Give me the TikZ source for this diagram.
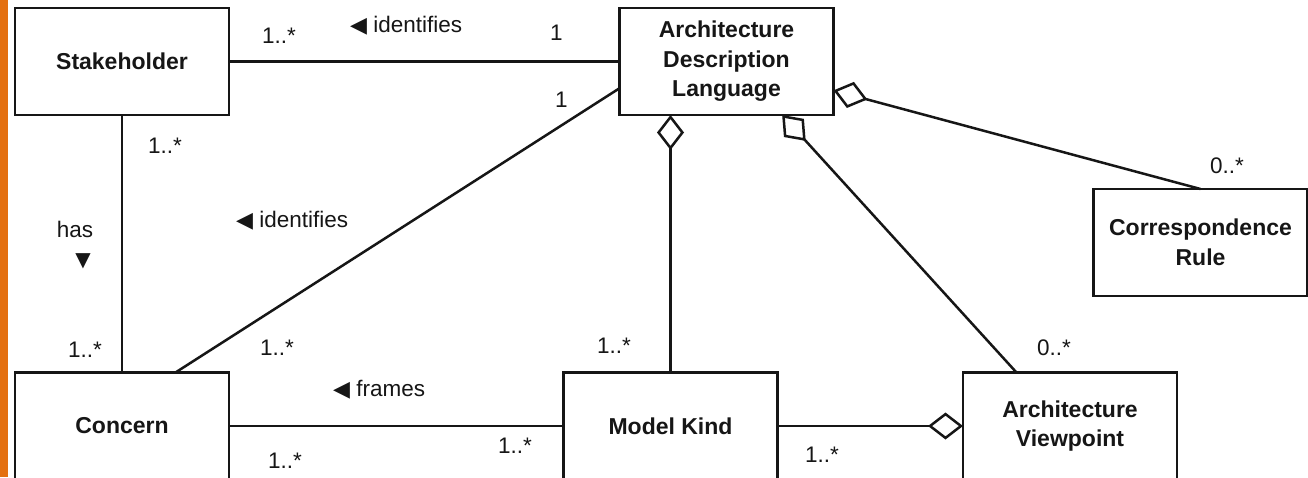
\documentclass[tikz,border=0pt]{standalone}
\usepackage{fontspec}
\setmainfont{Liberation Sans}
\newfontfamily\symbolfont{DejaVu Sans}
\usetikzlibrary{arrows.meta,calc}
\definecolor{edgeorange}{RGB}{228,112,16}
\definecolor{ink}{RGB}{22,22,22}
% direction markers for association names
\newcommand{\lefttri}{{\symbolfont\fontsize{22}{22}\selectfont ◀}}
\newcommand{\downtri}{{\symbolfont\fontsize{20}{20}\selectfont ▼}}
\tikzset{agg/.tip={Diamond[open, length=35pt, width=27pt]}}

\begin{document}
\begin{tikzpicture}[x=1pt,y=-1pt,
  cls/.style={draw=ink, line width=2.5pt, fill=white, minimum width=214pt,
    minimum height=107pt, inner sep=0pt, outer sep=0pt, align=center,
    font=\fontsize{23}{29.5}\selectfont\bfseries, text=ink},
  link/.style={draw=ink, line width=2.5pt},
  mult/.style={anchor=base west, inner sep=0pt,
    font=\fontsize{22.5}{27}\selectfont, text=ink},
]
\useasboundingbox (0,0) rectangle (1308,477);
\clip (0,0) rectangle (1308,477);
\fill[white] (0,0) rectangle (1308,477);
\fill[edgeorange] (0,0) rectangle (8,477);

% classes
\node[cls] (stake)   at (122,61.5)    {Stakeholder};
\node[cls] (adl)     at (726.5,61.5)  {Architecture\\Description\\Language};
\node[cls] (cr)      at (1200.5,242.5){Correspondence\\Rule};
\node[cls] (concern) at (122,426)     {Concern};
\node[cls] (mk)      at (670.5,426)   {Model Kind};
\node[cls] (av)      at (1070,426)    {Architecture\\Viewpoint};

% associations
\draw[link] (stake) -- (adl);
\draw[link] (stake) -- (concern);
\draw[link] ($(concern.north west)!0.75!(concern.north east)$)
  -- ($(adl.north west)!0.75!(adl.south west)$);
\draw[link] (concern) -- (mk);

% aggregations
\draw[link, agg-] (adl.south -| mk.north) -- (mk.north);
\draw[link, agg-] ($(adl.south west)!0.76!(adl.south east)$)
  -- ($(av.north west)!0.25!(av.north east)$);
\draw[link, agg-] ($(adl.north east)!0.77!(adl.south east)$) -- (cr.north);
\draw[link, -agg] (mk) -- (av);

% multiplicities and association names
\node[mult] (m1) at (262,43)  {1..*};
\node[mult] (n1) at (350,32)  {\lefttri\ identifies};
\node[mult] (m2) at (550,40)  {1};
\node[mult] (m3) at (555,107) {1};
\node[mult] (m4) at (148,153) {1..*};
\node[mult, anchor=base] (n2) at (75,237) {has};
\node[mult, anchor=base] (n2t) at (83,266) {\downtri};
\node[mult] (n3) at (236,227) {\lefttri\ identifies};
\node[mult] (m5) at (68,357)  {1..*};
\node[mult] (m6) at (260,355) {1..*};
\node[mult] (m7) at (597,353) {1..*};
\node[mult] (m8) at (1037,355){0..*};
\node[mult] (m9) at (1210,173){0..*};
\node[mult] (n4) at (333,396) {\lefttri\ frames};
\node[mult] (m10) at (268,468){1..*};
\node[mult] (m11) at (498,453){1..*};
\node[mult] (m12) at (805,462){1..*};
\end{tikzpicture}
\end{document}
